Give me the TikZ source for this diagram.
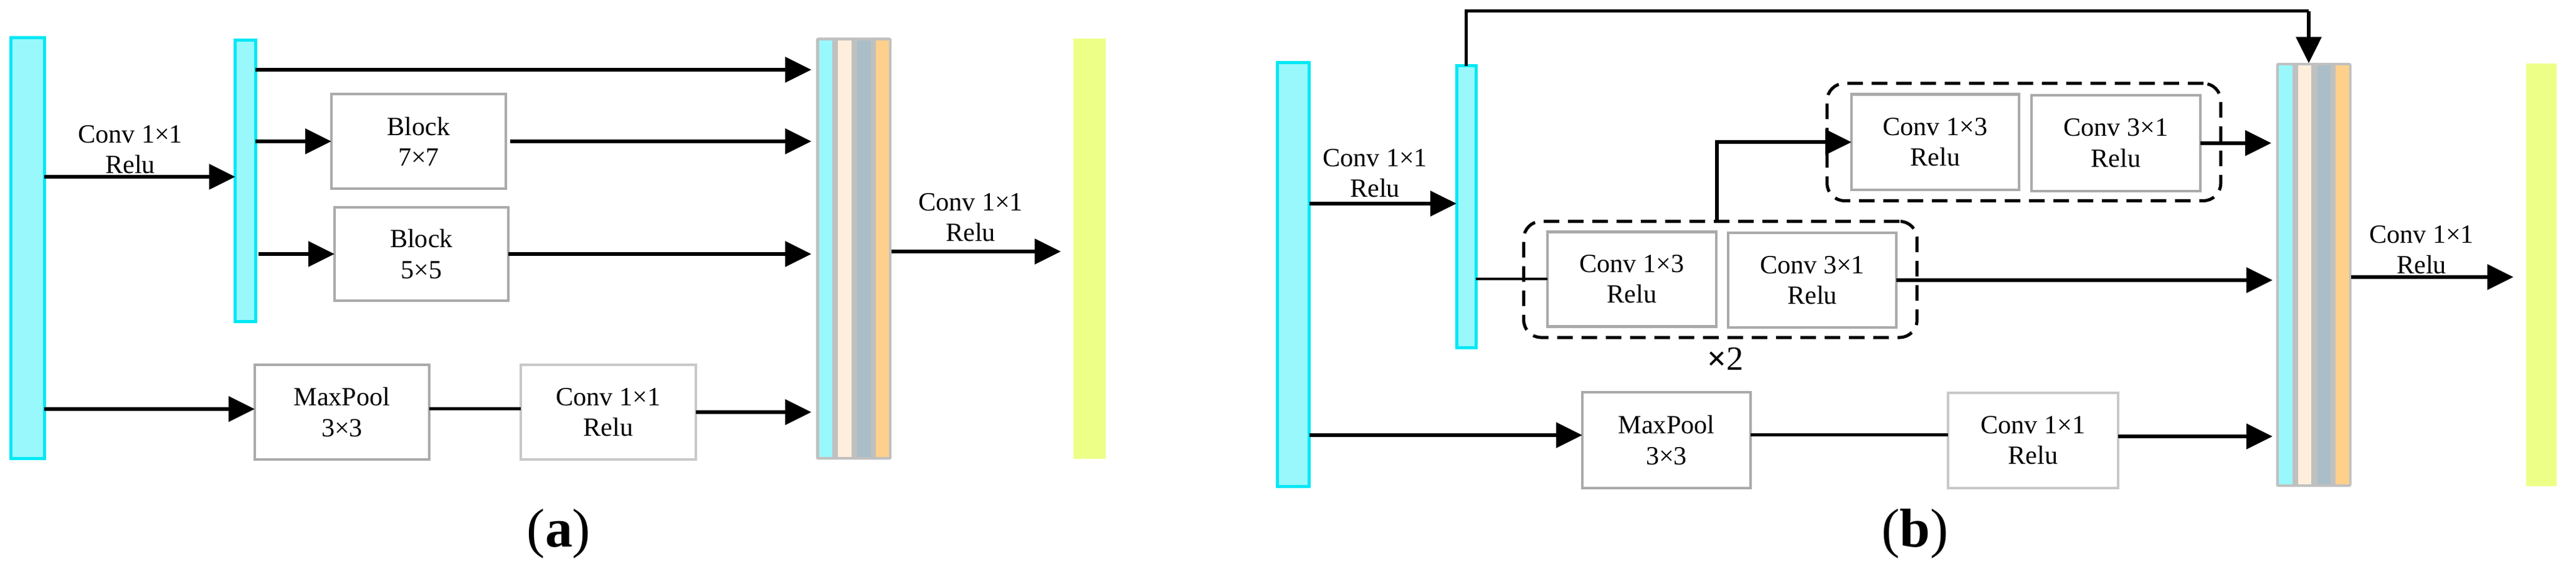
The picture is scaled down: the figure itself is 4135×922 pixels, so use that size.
\documentclass[tikz,border=0pt]{standalone}
\usepackage{fontspec}
\setmainfont{Liberation Serif}
\usetikzlibrary{arrows.meta}
\definecolor{cyanfill}{RGB}{153,248,252}
\definecolor{cyanborder}{RGB}{0,232,245}
\definecolor{creamc}{RGB}{255,238,220}
\definecolor{bluegrayc}{RGB}{170,190,200}
\definecolor{orangec}{RGB}{255,208,140}
\definecolor{stripegray}{RGB}{192,192,192}
\definecolor{yellowc}{RGB}{238,255,136}
\definecolor{boxgray}{RGB}{170,170,170}
\definecolor{boxlight}{RGB}{200,200,200}
\newcommand\labfont{\fontsize{12}{14}\selectfont}
\newcommand\capfont{\fontsize{25}{30}\selectfont}
% concat bar: name, left x, top y, bottom y
\newcommand\concatbar[4]{%
  \node[draw=stripegray, fill=stripegray, line width=0.01cm, inner sep=0, outer sep=0,
        minimum width=1.2cm, minimum height={(#4-#3)*0.01cm}, rounded corners=0.03cm]
        (#1) at ({#2+60},{(#3+#4)/2}) {};
  \node[stripe, fill=cyanfill,  minimum height={(#4-#3-8)*0.01cm}] (#1s1) at ({#2+14.75},{(#3+#4)/2}) {};
  \node[stripe, fill=creamc,    minimum height={(#4-#3-8)*0.01cm}] (#1s2) at ({#2+45.5},{(#3+#4)/2}) {};
  \node[stripe, fill=bluegrayc, minimum height={(#4-#3-8)*0.01cm}] (#1s3) at ({#2+76.25},{(#3+#4)/2}) {};
  \node[stripe, fill=orangec,   minimum height={(#4-#3-8)*0.01cm}] (#1s4) at ({#2+105.75},{(#3+#4)/2}) {};
}
\begin{document}
\begin{tikzpicture}[x=0.01cm,y=-0.01cm,
  arr/.style={line width=0.06cm, -{Triangle[length=0.42cm,width=0.40cm]}},
  ln/.style={line width=0.05cm},
  thinln/.style={line width=0.04cm},
  bar/.style={draw=cyanborder, fill=cyanfill, line width=0.05cm, inner sep=0, outer sep=0},
  ybar/.style={fill=yellowc, inner sep=0, outer sep=0},
  stripe/.style={inner sep=0, outer sep=0, minimum width=0.215cm},
  box/.style={draw=boxgray, line width=0.042cm, fill=white, inner sep=0, outer sep=0,
              align=center, font=\labfont},
  lbox/.style={box, draw=boxlight},
  lbl/.style={align=center, font=\labfont, inner sep=0},
  dashbox/.style={draw=black, line width=0.05cm, dash pattern=on 0.25cm off 0.14cm,
                  rounded corners=0.28cm, inner sep=0, outer sep=0},
  captxt/.style={font=\capfont, inner sep=0}
]
\useasboundingbox (0,0) rectangle (4135,922);

% ================= (a) =================
\node[bar, minimum width=0.535cm, minimum height=6.75cm] (inA) at (44.6,398.5) {};
\node[bar, minimum width=0.324cm, minimum height=4.51cm] (midA) at (393.8,290.5) {};
\node[box, minimum width=2.80cm, minimum height=1.515cm] (blk7) at (672,227) {Block\\7×7};
\node[box, minimum width=2.79cm, minimum height=1.50cm] (blk5) at (676.5,408) {Block\\5×5};
\node[box, minimum width=2.80cm, minimum height=1.52cm] (mpA) at (549,662) {MaxPool\\3×3};
\node[lbox, minimum width=2.81cm, minimum height=1.52cm] (cvA) at (976.5,662) {Conv 1×1\\Relu};
\concatbar{catA}{1310.5}{61}{738}
\node[ybar, minimum width=0.52cm, minimum height=6.75cm] (outA) at (1749,399.5) {};

\node[lbl] (lblA1) at (209,240) {Conv 1×1\\Relu};
\node[lbl] (lblA2) at (1558,349) {Conv 1×1\\Relu};

\draw[arr] (inA.east |- 0,284) -- (midA.west |- 0,284);
\draw[arr, shorten >=0.08cm] (midA.east |- 0,112) -- (catA.west |- 0,112);
\draw[arr] (midA.east |- blk7.west) -- (blk7.west);
\draw[arr, shorten <=0.07cm, shorten >=0.08cm] (blk7.east) -- (blk7.east -| catA.west);
\draw[arr] (midA.east |- blk5.west) ++(5,0) -- (blk5.west);
\draw[arr, shorten >=0.08cm] (blk5.east) -- (blk5.east -| catA.west);
\draw[arr] (inA.east |- 0,657) -- (mpA.west |- 0,657);
\draw[ln] (mpA.east |- 0,657) -- (cvA.west |- 0,657);
\draw[arr, shorten >=0.08cm] (cvA.east) -- (cvA.east -| catA.west);
\draw[arr, shorten >=0.2cm] (catA.east |- 0,404) -- (outA.west |- 0,404);

\node[captxt] (capA) at (897,857) {(\textbf{a})};

% ================= (b) =================
\node[bar, minimum width=0.51cm, minimum height=6.81cm] (inB) at (2076,441) {};
\node[bar, minimum width=0.31cm, minimum height=4.53cm] (midB) at (2353.5,332.3) {};
\node[dashbox, minimum width=6.31cm, minimum height=1.864cm] (dashLow) at (2761.5,448.8) {};
\node[box, minimum width=2.71cm, minimum height=1.52cm] (c13L) at (2619.5,448.5) {Conv 1×3\\Relu};
\node[box, minimum width=2.70cm, minimum height=1.52cm] (c31L) at (2909,450) {Conv 3×1\\Relu};
\node[dashbox, minimum width=6.316cm, minimum height=1.884cm] (dashUp) at (3248.8,228.2) {};
\node[box, minimum width=2.69cm, minimum height=1.535cm] (c13U) at (3106.5,228.3) {Conv 1×3\\Relu};
\node[box, minimum width=2.71cm, minimum height=1.536cm] (c31U) at (3396.5,229.8) {Conv 3×1\\Relu};
\node[box, minimum width=2.70cm, minimum height=1.54cm] (mpB) at (2675,707) {MaxPool\\3×3};
\node[lbox, minimum width=2.73cm, minimum height=1.53cm] (cvB) at (3263.5,707.5) {Conv 1×1\\Relu};
\concatbar{catB}{3654}{101.5}{781.6}
\node[ybar, minimum width=0.494cm, minimum height=6.786cm] (outB) at (4079.3,441.3) {};

\node[lbl] (lblB1) at (2207,278) {Conv 1×1\\Relu};
\node[lbl] (lblB2) at (3887,401) {Conv 1×1\\Relu};
\node[font=\fontsize{15.5}{18}\selectfont, inner sep=0] (rep) at (2770,576) {\textbf{×}2};

\coordinate (skipT) at (3706,18);
\draw[ln] (midB.north) |- (skipT);
\draw[arr] (skipT) -- (skipT |- catB.north);
\draw[arr] (inB.east |- 0,327) -- (midB.west |- 0,327);
\draw[thinln] (midB.east |- c13L.west) -- (c13L.west);
\draw[arr, shorten >=0.06cm] (c31L.east) -- (c31L.east -| catB.west);
\coordinate (brk) at (2756,355.6);
\draw[arr] (brk) |- (c13U.west);
\draw[arr, shorten >=0.08cm] (c31U.east) -- (c31U.east -| catB.west);
\draw[arr] (inB.east |- 0,699) -- (mpB.west |- 0,699);
\draw[ln] (mpB.east |- 0,699) -- (cvB.west |- 0,699);
\draw[arr, shorten >=0.06cm] (cvB.east |- 0,701) -- (catB.west |- 0,701);
\draw[arr, shorten >=0.2cm] (catB.east |- 0,445) -- (outB.west |- 0,445);

\node[captxt] (capB) at (3074,857) {(\textbf{b})};
\end{tikzpicture}
\end{document}
